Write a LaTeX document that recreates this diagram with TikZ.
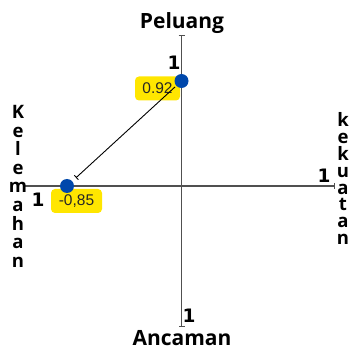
\documentclass[tikz,border=0pt]{standalone}
\usepackage{fontspec}
\setmainfont{Open Sans}
\newfontfamily\onefont{DejaVu Sans}
\newfontfamily\boxfont{Liberation Sans}
\usetikzlibrary{arrows.meta}
\definecolor{axisgray}{RGB}{80,80,80}
\definecolor{hiyellow}{RGB}{255,230,0}
\definecolor{dotblue}{RGB}{0,72,171}
\begin{document}
\begin{tikzpicture}[x=1pt,y=-1pt,
  axis/.style={draw=axisgray,line width=1.3pt},
  valbox/.style={fill=hiyellow,rounded corners=4pt,inner sep=0pt,minimum height=24pt,font=\boxfont\fontsize{15.5}{15.5}\selectfont,text=black!85},
  dot/.style={circle,fill=dotblue,minimum size=14pt,inner sep=0pt},
  title/.style={font=\bfseries\fontsize{21}{21}\selectfont,inner sep=0pt,anchor=base},
  onelbl/.style={font=\onefont\bfseries\fontsize{18.5}{18.5}\selectfont,inner sep=0pt,anchor=base},
  vletter/.style={font=\bfseries\fontsize{18.5}{18.5}\selectfont,inner sep=0pt,anchor=base},
  link/.style={draw=black,line width=0.9pt}]
\useasboundingbox (0,0) rectangle (351,350);
\coordinate (vtop) at (181.5,35);
\coordinate (vbot) at (181.5,327);
\coordinate (hleft) at (24,186);
\coordinate (hright) at (335,186);
\draw[axis,{Bar[width=6pt,line width=1.2pt]}-{Bar[width=6pt,line width=1.2pt]}] (vtop) -- (vbot);
\draw[axis,-{Bar[width=6pt,line width=1.2pt]}] (hleft) -- (hright);
\node[valbox,minimum width=45pt] (v1) at (157.5,88.5) {0.92};
\node[valbox,minimum width=51pt] (v2) at (76.5,201) {-0,85};
\node[dot] (d1) at (181.5,81) {};
\node[dot] (d2) at (67,186) {};
\draw[link,-{Bar[width=6pt,line width=0.9pt]},shorten <=1.5pt,shorten >=5pt] (d1) -- (d2);
\node[title] (tp) at (182,29) {Peluang};
\node[title] (ta) at (182,345.5) {Ancaman};
\node[onelbl] (o1) at (174,70) {1};
\node[onelbl] (o2) at (38,207) {1};
\node[onelbl] (o3) at (324,183) {1};
\node[onelbl] (o4) at (189,322) {1};
\foreach \c [count=\i from 0] in {K,e,l,e,m,a,h,a,n}
  \node[vletter] (kl\i) at (18,119+18.5*\i) {\c};
\foreach \c [count=\i from 0] in {k,e,k,u,a,t,a,n}
  \node[vletter] (kk\i) at (343,127+16.8*\i) {\c};
\end{tikzpicture}
\end{document}
